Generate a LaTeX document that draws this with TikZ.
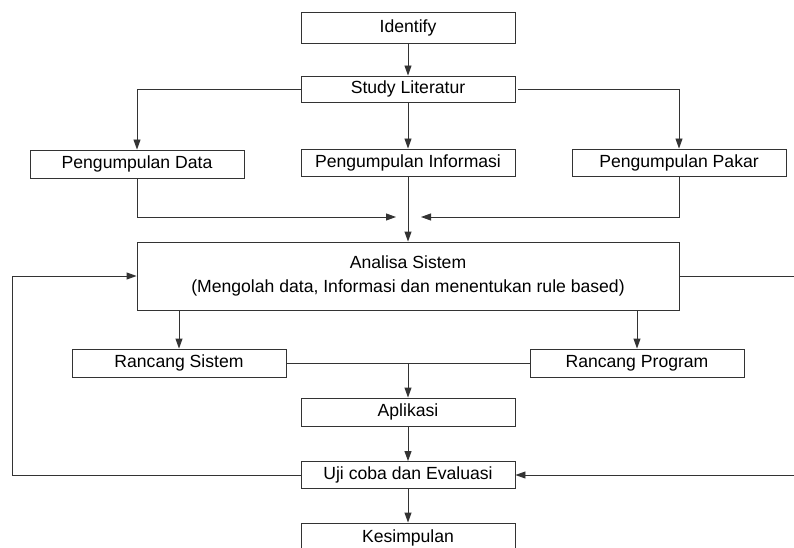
\documentclass[tikz,border=0pt]{standalone}
\usepackage{fontspec}
\setmainfont{Liberation Sans}
\usetikzlibrary{arrows.meta}
\definecolor{ln}{HTML}{333333}
\tikzset{
  box/.style={draw=ln, line width=0.9pt, inner sep=0pt, align=center, font=\fontsize{17.6}{24}\selectfont},
  arr/.style={draw=ln, line width=0.9pt, -{Triangle[length=10pt,width=7pt]}},
  ln/.style={draw=ln, line width=0.9pt}
}
\begin{document}
\begin{tikzpicture}[x=1pt,y=-1pt]
\useasboundingbox (0,0) rectangle (794,548);
\node[box, minimum width=214pt, minimum height=31pt] (id) at (408,27.5) {Identify};
\node[box, minimum width=214pt, minimum height=26pt] (sl) at (408,89) {Study Literatur};
\node[box, minimum width=214pt, minimum height=28pt] (pd) at (137,164) {Pengumpulan Data};
\node[box, minimum width=214pt, minimum height=27pt] (pi) at (408,162.5) {Pengumpulan Informasi};
\node[box, minimum width=214pt, minimum height=27pt] (pp) at (679,162.5) {Pengumpulan Pakar};
\node[box, minimum width=542pt, minimum height=68pt] (an) at (408,276) {Analisa Sistem\\(Mengolah data, Informasi dan menentukan rule based)};
\node[box, minimum width=214pt, minimum height=28pt] (rs) at (179,363) {Rancang Sistem};
\node[box, minimum width=214pt, minimum height=28pt] (rp) at (637,363) {Rancang Program};
\node[box, minimum width=214pt, minimum height=28pt] (ap) at (408,412) {Aplikasi};
\node[box, minimum width=214pt, minimum height=27pt] (uj) at (408,475) {Uji coba dan Evaluasi};
\node[box, minimum width=214pt, minimum height=30pt] (ks) at (408,538) {Kesimpulan};
\coordinate (jl) at (396,217);
\coordinate (jr) at (421,217);
\coordinate (mid) at (408,363);
\coordinate (lb) at (12,475);
\coordinate (rt) at (798,276);
\coordinate (rb) at (798,475);
\draw[arr] (id.south) -- (sl.north);
\draw[arr] (sl.west) -| (pd.north);
\draw[arr] (sl.south) -- (pi.north);
\draw[arr] ([xshift=3pt]sl.east) -| (pp.north);
\draw[arr] (pd.south) |- (jl);
\draw[arr] (pp.south) |- (jr);
\draw[arr] (pi.south) -- (an.north);
\draw[arr] (rs.north |- an.south) -- (rs.north);
\draw[arr] (rp.north |- an.south) -- (rp.north);
\draw[ln] (rs.east) -- (mid);
\draw[ln] (rp.west) -- (mid);
\draw[arr] (mid) -- (ap.north);
\draw[arr] (ap.south) -- (uj.north);
\draw[arr] (uj.south) -- (ks.north);
\draw[arr] (uj.west) -- (lb) |- (an.west);
\draw[arr] (an.east) -- (rt) -- (rb) -- (uj.east);
\end{tikzpicture}
\end{document}
